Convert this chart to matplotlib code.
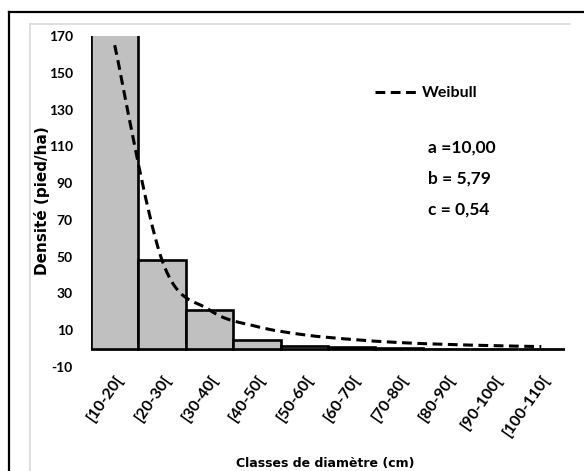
import matplotlib
matplotlib.use("Agg")
import matplotlib.pyplot as plt
import numpy as np
from matplotlib.path import Path
from matplotlib.patches import PathPatch
from matplotlib.lines import Line2D

# ---------------- data ----------------
classes = ["[10-20[", "[20-30[", "[30-40[", "[40-50[", "[50-60[",
           "[60-70[", "[70-80[", "[80-90[", "[90-100[", "[100-110["]
observed = [200, 48, 21, 4.5, 1.2, 0.8, 0.5, 0, 0, 0]
weibull = [165, 48, 21, 12, 7.5, 5, 3.3, 2.3, 1.6, 1.1]
yticks = [-10, 10, 30, 50, 70, 90, 110, 130, 150, 170]
params = ["a =10,00", "b = 5,79", "c = 0,54"]
ylabel = "Densité (pied/ha)"
xlabel = "Classes de diamètre (cm)"
curve_name = "Weibull"

W, H = 584, 471
NARROW = ["Lato", "DejaVu Sans"]

fig = plt.figure(figsize=(W / 100, H / 100), dpi=100)
fig.patch.set_facecolor("white")

def fx(px):
    return px / W

def fy(py):
    return 1 - py / H

# outer frame (black) and inner chart area (light gray)
fig.add_artist(Line2D([fx(9), fx(9)], [0, fy(12)], color="black", lw=1.6))
fig.add_artist(Line2D([fx(9), 1], [fy(12), fy(12)], color="black", lw=1.6))
fig.add_artist(Line2D([fx(30), fx(30)], [0, fy(24)], color="#d9d9d9", lw=1.2))
fig.add_artist(Line2D([fx(30), fx(570)], [fy(24), fy(24)], color="#d9d9d9", lw=1.2))

left, right, top, bottom = 91, 565, 36, 367
ax = fig.add_axes([fx(left), fy(bottom), (right - left) / W, (bottom - top) / H])
ax.set_facecolor("none")

x = np.arange(len(classes))
ax.bar(x, observed, width=1.0, color="#c0c0c0", edgecolor="black",
       linewidth=1.9, zorder=2)
ax.axhline(0, color="#a6a6a6", lw=2.0, zorder=1.5)

# smoothed curve (Excel style smoothing) through the read values
pts = np.column_stack([x, weibull]).astype(float)
verts = [tuple(pts[0])]
codes = [Path.MOVETO]
n = len(pts)
for i in range(n - 1):
    p0 = pts[i - 1] if i > 0 else pts[i]
    p1 = pts[i]
    p2 = pts[i + 1]
    p3 = pts[i + 2] if i + 2 < n else pts[i + 1]
    c1 = p1 + (p2 - p0) / 6.0
    c2 = p2 - (p3 - p1) / 6.0
    verts += [tuple(c1), tuple(c2), tuple(p2)]
    codes += [Path.CURVE4] * 3
patch = PathPatch(Path(verts, codes), facecolor="none", edgecolor="black",
                  lw=2.2, linestyle=(0, (3.2, 1.8)), zorder=3)
ax.add_patch(patch)

ax.set_xlim(-0.5, len(classes) - 0.5)
ax.set_ylim(-10, 170)
ax.set_yticks(yticks)
ax.set_yticklabels([str(v) for v in yticks], family=NARROW,
                   fontweight="bold", fontsize=10)
ax.set_xticks(x)
ax.set_xticklabels(classes, rotation=55, ha="right", va="top",
                   rotation_mode="anchor", family=NARROW,
                   fontweight="bold", fontsize=11.5)
ax.tick_params(axis="both", length=0)
ax.tick_params(axis="y", pad=13)
ax.tick_params(axis="x", pad=4)
for s in ax.spines.values():
    s.set_visible(False)

fig.text(fx(42), fy(201), ylabel, rotation=90, ha="center", va="center",
         family="DejaVu Sans", fontweight="bold", fontsize=11)
fig.text(fx(325), fy(463), xlabel, ha="center", va="center",
         family="DejaVu Sans", fontweight="bold", fontsize=9)

# legend
handle = Line2D([], [], color="black", lw=2.2, linestyle=(0, (3.2, 1.8)))
leg = fig.legend([handle], [curve_name], loc="center left",
                 bbox_to_anchor=(fx(375), fy(93)), frameon=False,
                 handlelength=2.7, handletextpad=0.25, borderpad=0,
                 borderaxespad=0,
                 prop={"family": NARROW, "weight": "bold", "size": 11.5})

for i, t in enumerate(params):
    fig.text(fx(428), fy(148 + 31 * i), t, ha="left", va="center",
             family=NARROW, fontweight="bold", fontsize=12.5)

fig.savefig("out.png", dpi=100, facecolor="white")
